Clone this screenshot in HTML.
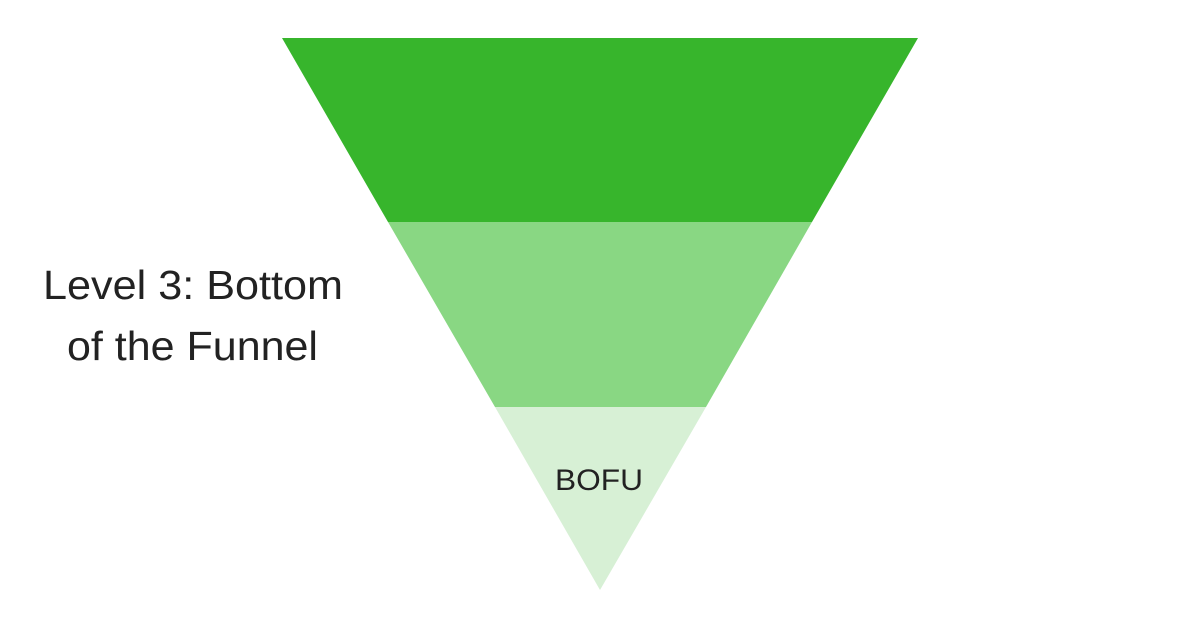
<!DOCTYPE html>
<html><head><meta charset="utf-8"><style>
html,body{margin:0;padding:0;background:#fff;}
</style></head><body>
<svg width="1200" height="628" viewBox="0 0 1200 628" xmlns="http://www.w3.org/2000/svg">
<rect width="1200" height="628" fill="#fff"/>
<polygon points="282,38 918,38 812,222 388,222" fill="#37b52c"/>
<polygon points="388,222 812,222 706,407 495,407" fill="#89d783"/>
<polygon points="495,407 706,407 600,590" fill="#d7f0d5"/>
<text x="555" y="490" textLength="88" lengthAdjust="spacingAndGlyphs" font-family="Liberation Sans, sans-serif" font-size="30" fill="#222">BOFU</text>
<text x="43" y="299" textLength="300" lengthAdjust="spacingAndGlyphs" font-family="Liberation Sans, sans-serif" font-size="41" fill="#222">Level 3: Bottom</text>
<text x="67" y="360" textLength="251" lengthAdjust="spacingAndGlyphs" font-family="Liberation Sans, sans-serif" font-size="41" fill="#222">of the Funnel</text>
</svg>
</body></html>
